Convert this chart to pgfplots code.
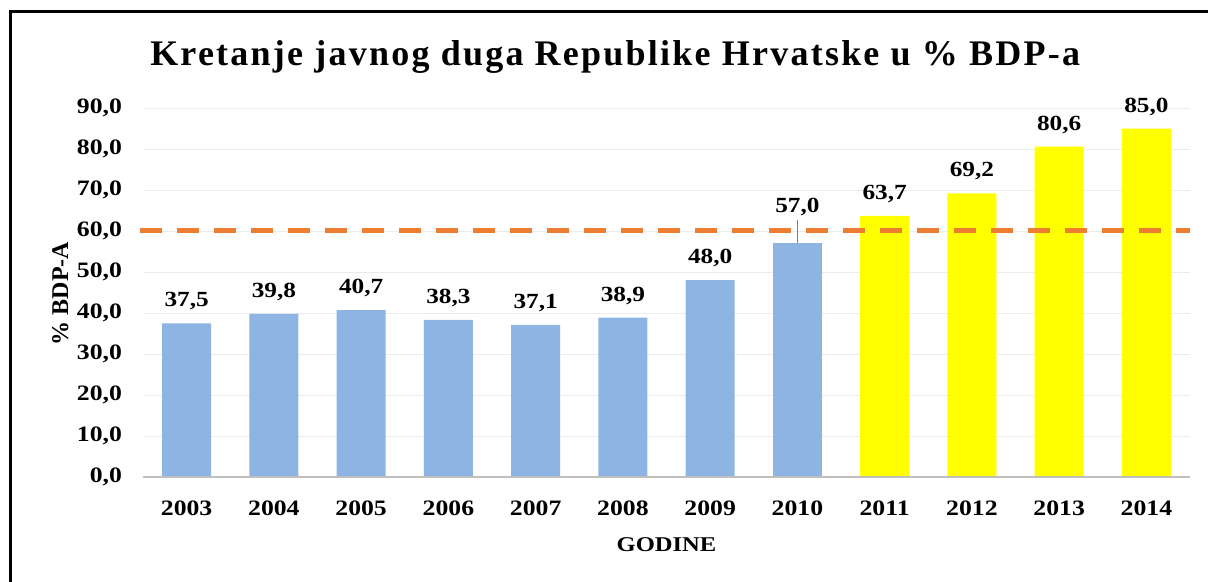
\documentclass[border=0pt]{standalone}
\usepackage{pgfplots}
\pgfplotsset{compat=1.18}
\usepackage{fontspec}
\setmainfont{Liberation Serif}[FakeStretch=1.17]
\newfontfamily\titlefont{Liberation Serif}[LetterSpace=6.2]
\newfontfamily\plainfont{Liberation Serif}
\definecolor{barblue}{RGB}{141,180,226}
\definecolor{baryellow}{RGB}{255,255,0}
\definecolor{dashorange}{RGB}{237,125,49}
\definecolor{gridgray}{RGB}{235,235,235}
\definecolor{axgray}{RGB}{191,191,191}
\begin{document}
\begin{tikzpicture}
\path[use as bounding box] (0,0) rectangle (604pt,-291pt);
\draw[line width=1.5pt] (5pt,-291pt) -- (5pt,-6pt) -- (604pt,-6pt);
\begin{axis}[
  at={(71.5pt,-238.5pt)}, anchor=south west,
  scale only axis, width=523.5pt, height=184.5pt,
  xmin=-0.5, xmax=11.5, ymin=0, ymax=90,
  clip=false,
  axis line style={draw=none},
  ytick={0,10,...,90},
  xtick={0,...,11},
  xticklabels={2003,2004,2005,2006,2007,2008,2009,2010,2011,2012,2013,2014},
  major tick length=0pt,
  ymajorgrids, grid style={gridgray, line width=0.5pt},
  /pgf/number format/assume math mode=true,
  yticklabel={\pgfmathprintnumber[fixed,fixed zerofill,precision=1,use comma]{\tick}},
  ticklabel style={font=\bfseries\fontsize{11pt}{12pt}\selectfont},
  yticklabel style={xshift=-7pt},
  xticklabel style={yshift=-8.5pt},
  title={Kretanje javnog duga Republike Hrvatske u \% BDP-a},
  title style={at={(0.451,1.105)}, anchor=center, yshift=0pt, font=\titlefont\bfseries\fontsize{18pt}{20pt}\selectfont},
  ylabel={\% BDP-A},
  ylabel style={at={(rel axis cs:-0.079,0.497)}, anchor=center, rotate=0, font=\plainfont\bfseries\fontsize{12pt}{13pt}\selectfont},
  xlabel={GODINE},
  xlabel style={at={(rel axis cs:0.5,-0.184)}, anchor=center, font=\bfseries\fontsize{10.5pt}{12pt}\selectfont},
  ybar, bar width=24.5pt, bar shift=0pt,
  nodes near coords={\pgfmathprintnumber[fixed,fixed zerofill,precision=1,use comma]{\pgfplotspointmeta}},
  nodes near coords style={font=\bfseries\fontsize{10.8pt}{12pt}\selectfont, yshift=3pt},
]
\addplot[fill=barblue, draw=none] coordinates {(0,37.5) (1,39.8) (2,40.7) (3,38.3) (4,37.1) (5,38.9) (6,48.0)};
\addplot[fill=barblue, draw=none, nodes near coords style={yshift=7pt}] coordinates {(7,57.0)};
\addplot[fill=baryellow, draw=none] coordinates {(8,63.7) (9,69.2) (10,80.6) (11,85.0)};
\draw[axgray, line width=1pt] (axis cs:-0.5,0) -- (axis cs:11.5,0);
\draw[gray, line width=0.4pt] (axis cs:7,57) -- (axis cs:7,62.8);
\addplot[ybar=0pt, sharp plot, dashorange, line width=2.5pt, dash pattern=on 11pt off 7.5pt, nodes near coords={}, forget plot] coordinates {(-0.535,60.2) (11.5,60.2)};
\end{axis}
\end{tikzpicture}
\end{document}
